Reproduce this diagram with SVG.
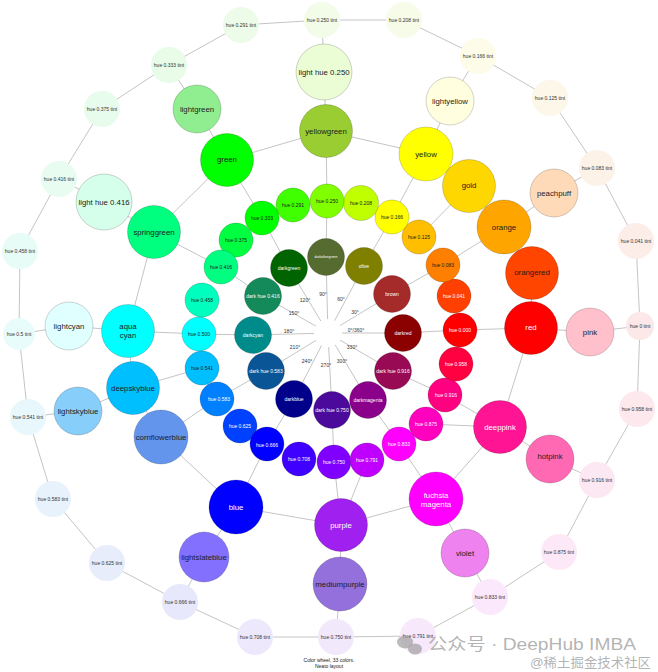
<svg xmlns="http://www.w3.org/2000/svg" width="658" height="672" viewBox="0 0 658 672">
<style>
text{font-family:"Liberation Sans",Arial,sans-serif;text-anchor:middle;dominant-baseline:central}
.e line{stroke:#b5b5b5;stroke-width:0.8}
.n circle{stroke:#000;stroke-opacity:.22;stroke-width:0.8}
.t circle{stroke:none}
.L{font-size:7.8px;fill:#1c1c1c}
.M{font-size:5px;fill:#1c1c1c}
.S{font-size:5px;fill:#333}
.w{fill:#fff}
.wm{fill:#9a9a9a;fill-opacity:.75;text-anchor:start;dominant-baseline:auto;font-family:"Liberation Sans","Noto Sans CJK SC",sans-serif}
</style>
<rect width="658" height="672" fill="#fff"/>
<g id="connectors" class="e">
<line x1="342" y1="333" x2="403" y2="333"/>
<line x1="339.9" y1="325.7" x2="392" y2="294"/>
<line x1="334.6" y1="320.7" x2="364" y2="266"/>
<line x1="327.6" y1="319" x2="326" y2="257"/>
<line x1="320.8" y1="321" x2="289" y2="268"/>
<line x1="315.8" y1="326.1" x2="263" y2="296"/>
<line x1="314" y1="333.4" x2="253" y2="335"/>
<line x1="316.1" y1="340.3" x2="266" y2="371"/>
<line x1="321.6" y1="345.4" x2="294" y2="399"/>
<line x1="328.7" y1="347" x2="332" y2="410"/>
<line x1="335.2" y1="345" x2="368" y2="400"/>
<line x1="340.1" y1="340.1" x2="393" y2="371"/>
<line x1="403" y1="333" x2="460" y2="330"/>
<line x1="392" y1="294" x2="443" y2="265"/>
<line x1="364" y1="266" x2="392" y2="217"/>
<line x1="326" y1="257" x2="327" y2="201"/>
<line x1="289" y1="268" x2="262" y2="218"/>
<line x1="263" y1="296" x2="221" y2="267"/>
<line x1="253" y1="335" x2="199" y2="334"/>
<line x1="266" y1="371" x2="217" y2="399"/>
<line x1="294" y1="399" x2="267" y2="444"/>
<line x1="332" y1="410" x2="334" y2="462"/>
<line x1="368" y1="400" x2="399" y2="444"/>
<line x1="393" y1="371" x2="445" y2="395"/>
<line x1="460" y1="330" x2="531" y2="328"/>
<line x1="443" y1="265" x2="504" y2="227"/>
<line x1="419" y1="237" x2="469" y2="186"/>
<line x1="392" y1="217" x2="426" y2="154"/>
<line x1="327" y1="201" x2="326" y2="131"/>
<line x1="262" y1="218" x2="227" y2="160"/>
<line x1="221" y1="267" x2="154" y2="232"/>
<line x1="199" y1="334" x2="128" y2="331"/>
<line x1="202" y1="368" x2="133" y2="388"/>
<line x1="217" y1="399" x2="161" y2="437"/>
<line x1="267" y1="444" x2="236" y2="507"/>
<line x1="334" y1="462" x2="341" y2="525"/>
<line x1="367" y1="460" x2="341" y2="525"/>
<line x1="399" y1="444" x2="436" y2="499"/>
<line x1="426" y1="424" x2="500" y2="427"/>
<line x1="445" y1="395" x2="500" y2="427"/>
<line x1="531" y1="328" x2="532" y2="273"/>
<line x1="532" y1="273" x2="504" y2="227"/>
<line x1="504" y1="227" x2="469" y2="186"/>
<line x1="469" y1="186" x2="426" y2="154"/>
<line x1="426" y1="154" x2="326" y2="131"/>
<line x1="326" y1="131" x2="227" y2="160"/>
<line x1="227" y1="160" x2="154" y2="232"/>
<line x1="154" y1="232" x2="128" y2="331"/>
<line x1="128" y1="331" x2="133" y2="388"/>
<line x1="133" y1="388" x2="161" y2="437"/>
<line x1="161" y1="437" x2="236" y2="507"/>
<line x1="236" y1="507" x2="341" y2="525"/>
<line x1="341" y1="525" x2="436" y2="499"/>
<line x1="436" y1="499" x2="500" y2="427"/>
<line x1="500" y1="427" x2="531" y2="328"/>
<line x1="326" y1="131" x2="324" y2="72"/>
<line x1="426" y1="154" x2="450" y2="101"/>
<line x1="504" y1="227" x2="554" y2="193"/>
<line x1="531" y1="328" x2="590" y2="332"/>
<line x1="500" y1="427" x2="550" y2="459"/>
<line x1="436" y1="499" x2="465" y2="553"/>
<line x1="341" y1="525" x2="340" y2="584"/>
<line x1="236" y1="507" x2="204" y2="557"/>
<line x1="133" y1="388" x2="78" y2="411"/>
<line x1="128" y1="331" x2="69" y2="326"/>
<line x1="154" y1="232" x2="104" y2="202"/>
<line x1="227" y1="160" x2="197" y2="109"/>
<line x1="324" y1="72" x2="322" y2="20"/>
<line x1="450" y1="101" x2="478" y2="56"/>
<line x1="554" y1="193" x2="597" y2="168"/>
<line x1="590" y1="332" x2="640" y2="326"/>
<line x1="550" y1="459" x2="597" y2="480"/>
<line x1="465" y1="553" x2="490" y2="597"/>
<line x1="340" y1="584" x2="336" y2="637"/>
<line x1="204" y1="557" x2="180" y2="602"/>
<line x1="78" y1="411" x2="28" y2="417"/>
<line x1="69" y1="326" x2="19" y2="334"/>
<line x1="104" y1="202" x2="59" y2="179"/>
<line x1="197" y1="109" x2="169" y2="65"/>
<line x1="640" y1="326" x2="636" y2="241"/>
<line x1="636" y1="241" x2="597" y2="168"/>
<line x1="597" y1="168" x2="550" y2="98"/>
<line x1="550" y1="98" x2="478" y2="56"/>
<line x1="478" y1="56" x2="404" y2="20"/>
<line x1="404" y1="20" x2="322" y2="20"/>
<line x1="322" y1="20" x2="241" y2="25"/>
<line x1="241" y1="25" x2="169" y2="65"/>
<line x1="169" y1="65" x2="102" y2="109"/>
<line x1="102" y1="109" x2="59" y2="179"/>
<line x1="59" y1="179" x2="20" y2="251"/>
<line x1="20" y1="251" x2="19" y2="334"/>
<line x1="19" y1="334" x2="28" y2="417"/>
<line x1="28" y1="417" x2="53" y2="499"/>
<line x1="53" y1="499" x2="107" y2="563"/>
<line x1="107" y1="563" x2="180" y2="602"/>
<line x1="180" y1="602" x2="255" y2="637"/>
<line x1="255" y1="637" x2="336" y2="637"/>
<line x1="336" y1="637" x2="418" y2="636"/>
<line x1="418" y1="636" x2="490" y2="597"/>
<line x1="490" y1="597" x2="559" y2="552"/>
<line x1="559" y1="552" x2="597" y2="480"/>
<line x1="597" y1="480" x2="637" y2="409"/>
<line x1="637" y1="409" x2="640" y2="326"/>
</g>
<g id="angle-labels">
<text class="S" x="356" y="330">0°/360°</text>
<text class="S" x="355" y="312">30°</text>
<text class="S" x="341" y="299">60°</text>
<text class="S" x="323" y="294">90°</text>
<text class="S" x="305" y="300">120°</text>
<text class="S" x="294" y="313">150°</text>
<text class="S" x="289" y="331">180°</text>
<text class="S" x="295" y="347">210°</text>
<text class="S" x="307" y="361">240°</text>
<text class="S" x="326" y="365">270°</text>
<text class="S" x="342" y="361">300°</text>
<text class="S" x="352" y="347">330°</text>
</g>
<g id="t_0" class="t"><circle cx="640" cy="326" r="14" fill="#fce8e8"/><text class="S" x="640" y="326">hue 0 tint</text></g>
<g id="t_041" class="t"><circle cx="636" cy="241" r="18" fill="#fcede8"/><text class="S" x="636" y="241">hue 0.041 tint</text></g>
<g id="t_083" class="t"><circle cx="597" cy="168" r="18" fill="#fcf2e8"/><text class="S" x="597" y="168">hue 0.083 tint</text></g>
<g id="t_125" class="t"><circle cx="550" cy="98" r="18" fill="#fcf7e8"/><text class="S" x="550" y="98">hue 0.125 tint</text></g>
<g id="t_166" class="t"><circle cx="478" cy="56" r="18" fill="#fcfce8"/><text class="S" x="478" y="56">hue 0.166 tint</text></g>
<g id="t_208" class="t"><circle cx="404" cy="20" r="18" fill="#f7fce8"/><text class="S" x="404" y="20">hue 0.208 tint</text></g>
<g id="t_250" class="t"><circle cx="322" cy="20" r="18" fill="#f2fce8"/><text class="S" x="322" y="20">hue 0.250 tint</text></g>
<g id="t_291" class="t"><circle cx="241" cy="25" r="18" fill="#edfce8"/><text class="S" x="241" y="25">hue 0.291 tint</text></g>
<g id="t_333" class="t"><circle cx="169" cy="65" r="18" fill="#e8fce8"/><text class="S" x="169" y="65">hue 0.333 tint</text></g>
<g id="t_375" class="t"><circle cx="102" cy="109" r="18" fill="#e8fced"/><text class="S" x="102" y="109">hue 0.375 tint</text></g>
<g id="t_416" class="t"><circle cx="59" cy="179" r="18" fill="#e8fcf2"/><text class="S" x="59" y="179">hue 0.416 tint</text></g>
<g id="t_458" class="t"><circle cx="20" cy="251" r="18" fill="#e8fcf7"/><text class="S" x="20" y="251">hue 0.458 tint</text></g>
<g id="t_5" class="t"><circle cx="19" cy="334" r="16" fill="#e8fcfc"/><text class="S" x="19" y="334">hue 0.5 tint</text></g>
<g id="t_541" class="t"><circle cx="28" cy="417" r="18" fill="#e8f7fc"/><text class="S" x="28" y="417">hue 0.541 tint</text></g>
<g id="t_583" class="t"><circle cx="53" cy="499" r="18" fill="#e8f2fc"/><text class="S" x="53" y="499">hue 0.583 tint</text></g>
<g id="t_625" class="t"><circle cx="107" cy="563" r="18" fill="#e8edfc"/><text class="S" x="107" y="563">hue 0.625 tint</text></g>
<g id="t_666" class="t"><circle cx="180" cy="602" r="18" fill="#e8e8fc"/><text class="S" x="180" y="602">hue 0.666 tint</text></g>
<g id="t_708" class="t"><circle cx="255" cy="637" r="18" fill="#ede8fc"/><text class="S" x="255" y="637">hue 0.708 tint</text></g>
<g id="t_750" class="t"><circle cx="336" cy="637" r="18" fill="#f2e8fc"/><text class="S" x="336" y="637">hue 0.750 tint</text></g>
<g id="t_791" class="t"><circle cx="418" cy="636" r="18" fill="#f7e8fc"/><text class="S" x="418" y="636">hue 0.791 tint</text></g>
<g id="t_833" class="t"><circle cx="490" cy="597" r="18" fill="#fce8fc"/><text class="S" x="490" y="597">hue 0.833 tint</text></g>
<g id="t_875" class="t"><circle cx="559" cy="552" r="18" fill="#fce8f7"/><text class="S" x="559" y="552">hue 0.875 tint</text></g>
<g id="t_916" class="t"><circle cx="597" cy="480" r="18" fill="#fce8f2"/><text class="S" x="597" y="480">hue 0.916 tint</text></g>
<g id="t_958" class="t"><circle cx="637" cy="409" r="18" fill="#fce8ed"/><text class="S" x="637" y="409">hue 0.958 tint</text></g>
<g id="l_250" class="n"><circle cx="324" cy="72" r="28" fill="#eafdd5"/><text class="L" x="324" y="72">light hue 0.250</text></g>
<g id="lightyellow" class="n"><circle cx="450" cy="101" r="24" fill="#ffffe0"/><text class="L" x="450" y="101">lightyellow</text></g>
<g id="peachpuff" class="n"><circle cx="554" cy="193" r="24" fill="#ffdab9"/><text class="L" x="554" y="193">peachpuff</text></g>
<g id="pink" class="n"><circle cx="590" cy="332" r="24" fill="#ffc0cb"/><text class="L" x="590" y="332">pink</text></g>
<g id="hotpink" class="n"><circle cx="550" cy="459" r="24" fill="#ff69b4"/><text class="L" x="550" y="456">hotpink</text></g>
<g id="violet" class="n"><circle cx="465" cy="553" r="24" fill="#ee82ee"/><text class="L" x="465" y="553">violet</text></g>
<g id="mediumpurple" class="n"><circle cx="340" cy="584" r="27" fill="#9370db"/><text class="L" x="340" y="584">mediumpurple</text></g>
<g id="lightslateblue" class="n"><circle cx="204" cy="557" r="25" fill="#8470ff"/><text class="L" x="204" y="557">lightslateblue</text></g>
<g id="lightskyblue" class="n"><circle cx="78" cy="411" r="24" fill="#87cefa"/><text class="L" x="78" y="411">lightskyblue</text></g>
<g id="lightcyan" class="n"><circle cx="69" cy="326" r="24" fill="#e0ffff"/><text class="L" x="69" y="326">lightcyan</text></g>
<g id="l_416" class="n"><circle cx="104" cy="202" r="28" fill="#d5ffea"/><text class="L" x="104" y="202">light hue 0.416</text></g>
<g id="lightgreen" class="n"><circle cx="197" cy="109" r="24" fill="#90ee90"/><text class="L" x="197" y="109">lightgreen</text></g>
<g id="red" class="n"><circle cx="531" cy="328" r="26.5" fill="#ff0000"/><text class="L w" x="531" y="327">red</text></g>
<g id="orangered" class="n"><circle cx="532" cy="273" r="26.5" fill="#ff4500"/><text class="L" x="532" y="272">orangered</text></g>
<g id="orange" class="n"><circle cx="504" cy="227" r="27" fill="#ffa500"/><text class="L" x="504" y="227">orange</text></g>
<g id="gold" class="n"><circle cx="469" cy="186" r="26.5" fill="#ffd700"/><text class="L" x="469" y="185">gold</text></g>
<g id="yellow" class="n"><circle cx="426" cy="154" r="27" fill="#ffff00"/><text class="L" x="426" y="154">yellow</text></g>
<g id="yellowgreen" class="n"><circle cx="326" cy="131" r="26.5" fill="#9acd32"/><text class="L" x="326" y="131">yellowgreen</text></g>
<g id="green" class="n"><circle cx="227" cy="160" r="26.5" fill="#00ff00"/><text class="L" x="227" y="159">green</text></g>
<g id="springgreen" class="n"><circle cx="154" cy="232" r="26.5" fill="#00ff7f"/><text class="L" x="154" y="232">springgreen</text></g>
<g id="aqua" class="n"><circle cx="128" cy="331" r="26.5" fill="#00ffff"/><text class="L" x="128" y="326">aqua</text><text class="L" x="128" y="335">cyan</text></g>
<g id="deepskyblue" class="n"><circle cx="133" cy="388" r="26.5" fill="#00bfff"/><text class="L" x="133" y="388">deepskyblue</text></g>
<g id="cornflowerblue" class="n"><circle cx="161" cy="437" r="27" fill="#6495ed"/><text class="L" x="161" y="437">cornflowerblue</text></g>
<g id="blue" class="n"><circle cx="236" cy="507" r="27" fill="#0000ff"/><text class="L w" x="236" y="507">blue</text></g>
<g id="purple" class="n"><circle cx="341" cy="525" r="26.5" fill="#a020f0"/><text class="L w" x="341" y="525">purple</text></g>
<g id="fuchsia" class="n"><circle cx="436" cy="499" r="27" fill="#ff00ff"/><text class="L w" x="436" y="495">fuchsia</text><text class="L w" x="436" y="504">magenta</text></g>
<g id="deeppink" class="n"><circle cx="500" cy="427" r="26.5" fill="#ff1493"/><text class="L w" x="500" y="427">deeppink</text></g>
<g id="h_000" class="n"><circle cx="460" cy="330" r="17" fill="#ff0000"/><text class="M w" x="460" y="330">hue 0.000</text></g>
<g id="h_041" class="n"><circle cx="454" cy="296" r="17" fill="#ff4000"/><text class="M w" x="454" y="296">hue 0.041</text></g>
<g id="h_083" class="n"><circle cx="443" cy="265" r="17" fill="#ff8000"/><text class="M" x="443" y="265">hue 0.083</text></g>
<g id="h_125" class="n"><circle cx="419" cy="237" r="17" fill="#ffbf00"/><text class="M" x="419" y="237">hue 0.125</text></g>
<g id="h_166" class="n"><circle cx="392" cy="217" r="17" fill="#ffff00"/><text class="M" x="392" y="217">hue 0.166</text></g>
<g id="h_208" class="n"><circle cx="361" cy="203" r="17.5" fill="#bfff00"/><text class="M" x="361" y="203">hue 0.208</text></g>
<g id="h_250" class="n"><circle cx="327" cy="201" r="17" fill="#80ff00"/><text class="M" x="327" y="201">hue 0.250</text></g>
<g id="h_291" class="n"><circle cx="293" cy="205" r="17" fill="#40ff00"/><text class="M" x="293" y="205">hue 0.291</text></g>
<g id="h_333" class="n"><circle cx="262" cy="218" r="17" fill="#00ff00"/><text class="M" x="262" y="218">hue 0.333</text></g>
<g id="h_375" class="n"><circle cx="236" cy="240" r="17" fill="#00ff40"/><text class="M" x="236" y="240">hue 0.375</text></g>
<g id="h_416" class="n"><circle cx="221" cy="267" r="17" fill="#00ff80"/><text class="M" x="221" y="267">hue 0.416</text></g>
<g id="h_458" class="n"><circle cx="202" cy="300" r="17" fill="#00ffbf"/><text class="M" x="202" y="300">hue 0.458</text></g>
<g id="h_500" class="n"><circle cx="199" cy="334" r="17" fill="#00ffff"/><text class="M" x="199" y="334">hue 0.500</text></g>
<g id="h_541" class="n"><circle cx="202" cy="368" r="17" fill="#00bfff"/><text class="M" x="202" y="368">hue 0.541</text></g>
<g id="h_583" class="n"><circle cx="217" cy="399" r="17" fill="#0080ff"/><text class="M w" x="219" y="399">hue 0.583</text></g>
<g id="h_625" class="n"><circle cx="240" cy="426" r="17" fill="#0040ff"/><text class="M w" x="240" y="426">hue 0.625</text></g>
<g id="h_666" class="n"><circle cx="267" cy="444" r="17" fill="#0000ff"/><text class="M w" x="267" y="445">hue 0.666</text></g>
<g id="h_708" class="n"><circle cx="299" cy="459" r="17" fill="#4000ff"/><text class="M w" x="299" y="459">hue 0.708</text></g>
<g id="h_750" class="n"><circle cx="334" cy="462" r="17" fill="#8000ff"/><text class="M w" x="334" y="462">hue 0.750</text></g>
<g id="h_791" class="n"><circle cx="367" cy="460" r="17" fill="#bf00ff"/><text class="M w" x="367" y="460">hue 0.791</text></g>
<g id="h_833" class="n"><circle cx="399" cy="444" r="17" fill="#ff00ff"/><text class="M w" x="399" y="444">hue 0.833</text></g>
<g id="h_875" class="n"><circle cx="426" cy="424" r="17" fill="#ff00bf"/><text class="M w" x="426" y="424">hue 0.875</text></g>
<g id="h_916" class="n"><circle cx="445" cy="395" r="17" fill="#ff0080"/><text class="M w" x="446" y="395">hue 0.916</text></g>
<g id="h_958" class="n"><circle cx="456" cy="364" r="17" fill="#ff0040"/><text class="M w" x="456" y="364">hue 0.958</text></g>
<g id="darkred" class="n"><circle cx="403" cy="333" r="18.5" fill="#8b0000"/><text class="M w" x="403" y="333">darkred</text></g>
<g id="brown" class="n"><circle cx="392" cy="294" r="18.5" fill="#a52a2a"/><text class="M w" x="392" y="294">brown</text></g>
<g id="olive" class="n"><circle cx="364" cy="266" r="18.5" fill="#808000"/><text class="M w" x="364" y="266">olive</text></g>
<g id="darkolivegreen" class="n"><circle cx="326" cy="257" r="18.5" fill="#556b2f"/><text class="M w" x="326" y="257" style="font-size:3.5px">darkolivegreen</text></g>
<g id="darkgreen" class="n"><circle cx="289" cy="268" r="18.5" fill="#006400"/><text class="M w" x="289" y="268">darkgreen</text></g>
<g id="d_416" class="n"><circle cx="263" cy="296" r="18.5" fill="#14895a"/><text class="M w" x="263" y="296">dark hue 0.416</text></g>
<g id="darkcyan" class="n"><circle cx="253" cy="335" r="18.5" fill="#008b8b"/><text class="M w" x="253" y="335">darkcyan</text></g>
<g id="d_583" class="n"><circle cx="266" cy="371" r="18.5" fill="#0a5596"/><text class="M w" x="266" y="371">dark hue 0.583</text></g>
<g id="darkblue" class="n"><circle cx="294" cy="399" r="18.5" fill="#00008b"/><text class="M w" x="294" y="399">darkblue</text></g>
<g id="d_750" class="n"><circle cx="332" cy="410" r="18.5" fill="#4b0a9b"/><text class="M w" x="332" y="410">dark hue 0.750</text></g>
<g id="darkmagenta" class="n"><circle cx="368" cy="400" r="18.5" fill="#8b008b"/><text class="M w" x="368" y="400">darkmagenta</text></g>
<g id="d_916" class="n"><circle cx="393" cy="371" r="18.5" fill="#990a55"/><text class="M w" x="393" y="371">dark hue 0.916</text></g>
<g id="caption">
<text class="S" x="329" y="660" style="fill:#222">Color wheel, 33 colors.</text>
<text class="S" x="329" y="666" style="fill:#222">Neato layout</text>
</g>
<g id="watermark">
<ellipse cx="405" cy="642" rx="8" ry="6.5" fill="#a0a0a0" fill-opacity=".7"/>
<ellipse cx="415" cy="649" rx="7" ry="5.5" fill="#a0a0a0" fill-opacity=".7"/>
<text class="wm" x="428" y="650" style="font-size:16.5px" textLength="208" lengthAdjust="spacingAndGlyphs">公众号 · DeepHub IMBA</text>
<text class="wm" x="530" y="667" style="font-size:13px" textLength="121" lengthAdjust="spacingAndGlyphs">@稀土掘金技术社区</text>
</g>
</svg>
